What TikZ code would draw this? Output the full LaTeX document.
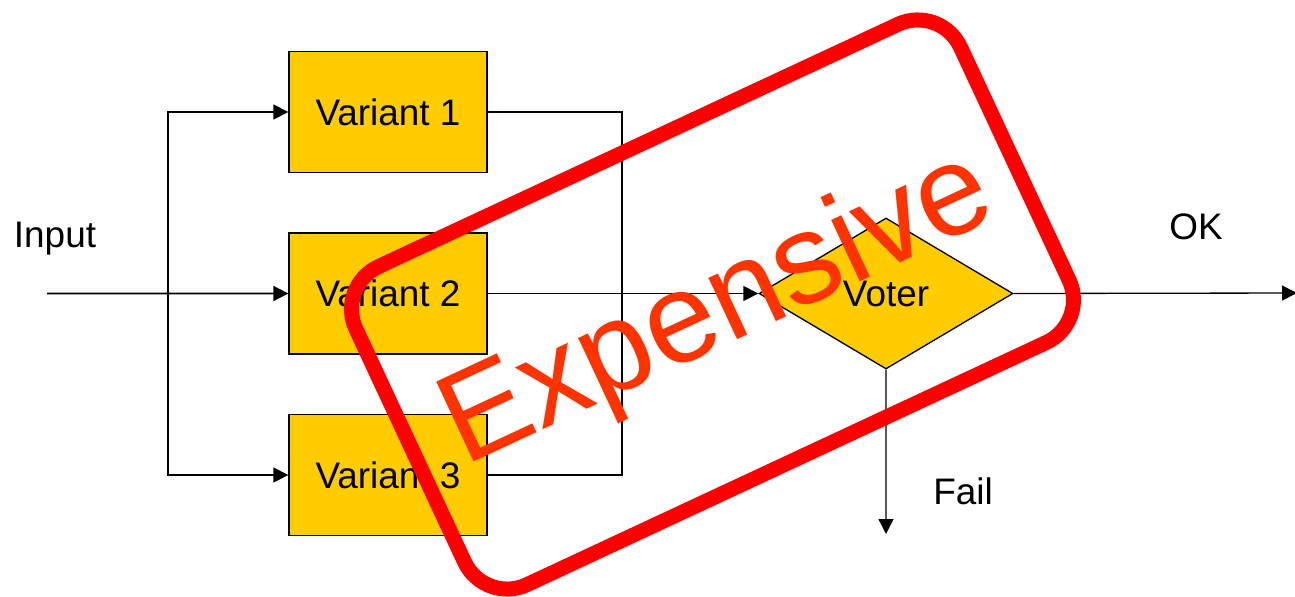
\documentclass[tikz,border=0pt]{standalone}
\usepackage{fontspec}
\setmainfont{Liberation Sans}
\usepackage{xcolor}
\usetikzlibrary{shapes.geometric, arrows.meta}
\definecolor{variantyellow}{RGB}{255, 204, 0}
\definecolor{stampred}{RGB}{255, 0, 0}
\definecolor{stamptext}{RGB}{255, 51, 0}

\begin{document}
\begin{tikzpicture}[node distance=3.63cm, every node/.style={align=center, font=\fontsize{21}{25}\selectfont},
  variant/.style={draw, fill=variantyellow, line width=0.75pt, minimum width=3.96cm, minimum height=2.42cm, inner sep=0pt},
  voterbox/.style={draw, fill=variantyellow, diamond, line width=0.75pt, minimum width=5.08cm, minimum height=3.02cm, inner sep=0pt},
  conn/.style={line width=0.75pt, -{Triangle[length=0.3cm, width=0.3cm]}},
  wire/.style={line width=0.75pt}]
  \useasboundingbox (0,0) rectangle (25.9,-11.92);

  % Nodes
  \node[variant] (v1) at (7.76,-2.24) {Variant 1};
  \node[variant, below of=v1] (v2) {Variant 2};
  \node[variant, below of=v2] (v3) {Variant 3};
  \node[voterbox, right of=v2, node distance=9.96cm] (voter) {Voter};

  \coordinate (in) at (0.94,-5.87);
  \coordinate (split) at (3.36,-5.87);
  \coordinate (merge) at (12.44,-5.87);
  \coordinate (okend) at (25.94,-5.86);
  \coordinate (failend) at (17.72,-10.68);

  % Labels
  \node[anchor=base] (inputlabel) at (1.1,-4.94) {Input};
  \node[anchor=base] (oklabel) at (23.92,-4.78) {OK};
  \node[anchor=base] (faillabel) at (19.26,-10.08) {Fail};

  % Arrows
  \draw[conn, line width=1pt] (in) -- (v2);
  \draw[conn] (split) |- (v1);
  \draw[conn] (split) |- (v3);
  \draw[wire] (v1.east) -| (merge);
  \draw[wire] (v3.east) -| (merge);
  \draw[conn] (v2) -- (voter);
  \draw[conn] (voter.east) -- (okend);
  \draw[conn] (voter.south) -- (failend);

  % Stamp
  \node[draw=stampred, line width=0.3cm, rounded corners=0.94cm, rotate=25, minimum width=13.34cm, minimum height=7.02cm] (stamp) at (14.25,-6.09) {};
  \node[rotate=25, anchor=base, text=stamptext, font=\fontsize{73}{82}\selectfont] (cost) at (14.65,-6.83) {Expensive};
\end{tikzpicture}
\end{document}
